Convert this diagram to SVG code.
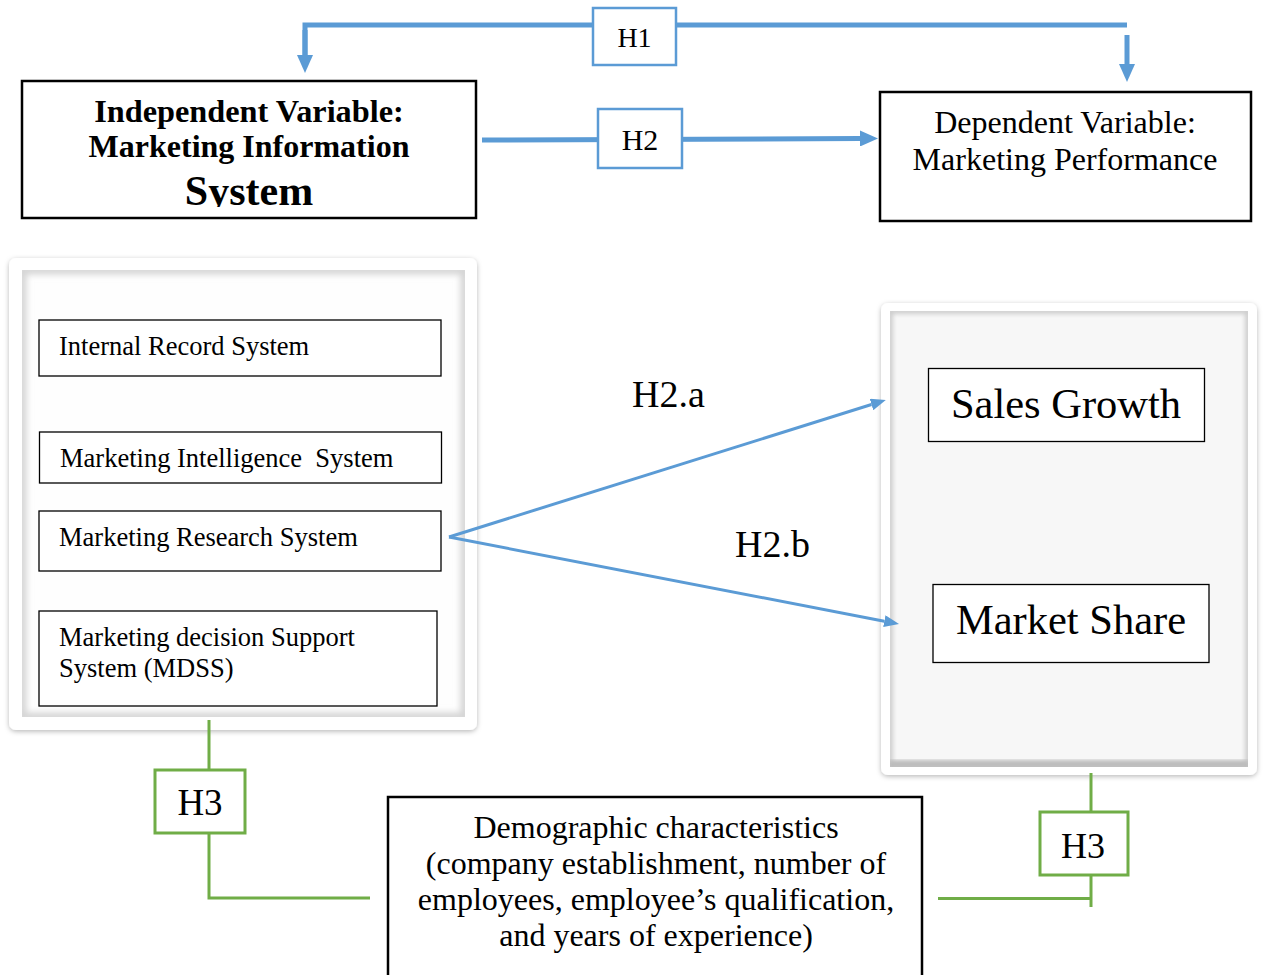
<svg xmlns="http://www.w3.org/2000/svg" width="1265" height="975" viewBox="0 0 1265 975">
<style>
text{font-family:"Liberation Serif","Times New Roman",serif;fill:#000}
.c{text-anchor:middle}
.blue{fill:none;stroke:#5b9bd5}
.green{fill:none;stroke:#70ad47;stroke-width:3}
.box{fill:#fff;stroke:#000}
.hb{fill:#fff;stroke:#5b9bd5;stroke-width:2.5}
.hg{fill:#fff;stroke:#70ad47;stroke-width:3}
.sub{font-size:26.5px}
.dem{font-size:32px}
</style>
<defs>
<marker id="ahB" markerUnits="userSpaceOnUse" markerWidth="18" markerHeight="16" refX="0" refY="8" orient="auto"><path d="M0,0 L18,8 L0,16 z" fill="#5b9bd5"/></marker>
<marker id="ahS" markerUnits="userSpaceOnUse" markerWidth="15" markerHeight="12" refX="0" refY="6" orient="auto"><path d="M0,0 L15,6 L0,12 z" fill="#5b9bd5"/></marker>
<filter id="shadow" x="-10%" y="-10%" width="120%" height="120%"><feDropShadow dx="0" dy="1.5" stdDeviation="2.5" flood-color="#000" flood-opacity="0.28"/></filter>
<filter id="blur3"><feGaussianBlur stdDeviation="3"/></filter>
<filter id="blur2"><feGaussianBlur stdDeviation="2"/></filter>
<clipPath id="clipL"><rect x="22" y="270" width="443" height="447"/></clipPath>
<clipPath id="clipR"><rect x="890" y="311" width="358" height="456"/></clipPath>
<clipPath id="clipIV"><rect x="22" y="80" width="456" height="127"/></clipPath>
</defs>

<g id="mis-container">
<rect x="9" y="258" width="468" height="472" rx="7" fill="#fff" filter="url(#shadow)"/>
<rect x="22" y="270" width="443" height="447" fill="#fefefe"/>
<g clip-path="url(#clipL)"><rect x="22" y="270" width="443" height="447" fill="none" stroke="#d4d4d4" stroke-width="9" filter="url(#blur3)"/></g>
</g>
<g id="performance-container">
<rect x="881" y="303" width="376" height="472" rx="7" fill="#fff" filter="url(#shadow)"/>
<rect x="890" y="311" width="358" height="456" fill="#f7f7f7"/>
<g clip-path="url(#clipR)">
<rect x="890" y="311" width="358" height="456" fill="none" stroke="#cdcdcd" stroke-width="6" filter="url(#blur2)"/>
<rect x="888" y="760" width="362" height="9" fill="#bcbcbc" filter="url(#blur2)"/>
</g>
</g>

<g id="connectors">
<path class="blue" stroke-width="5" d="M305,58 V25 H1127"/>
<path class="blue" stroke-width="5" d="M305,30 V55" marker-end="url(#ahB)"/>
<path class="blue" stroke-width="5" d="M1127,35 V64" marker-end="url(#ahB)"/>
<path class="blue" stroke-width="5" d="M482,140 L860,138.5" marker-end="url(#ahB)"/>
<path class="blue" stroke-width="3" d="M449,537 L871.5,404.5" marker-end="url(#ahS)"/>
<path class="blue" stroke-width="3" d="M449,537 L884.3,621.2" marker-end="url(#ahS)"/>
<path class="green" d="M209,720 V898 H370"/>
<path class="green" d="M1091,773 V907"/>
<path class="green" d="M938,898.5 H1091"/>
</g>

<g id="h1">
<rect class="hb" x="593" y="8" width="83" height="57"/>
<text class="c" x="634.5" y="47" font-size="28">H1</text>
</g>
<g id="h2">
<rect class="hb" x="598" y="109" width="84" height="59"/>
<text class="c" x="640" y="150" font-size="30">H2</text>
</g>

<g id="independent">
<rect class="box" stroke-width="2.5" x="22" y="81" width="454" height="137"/>
<g clip-path="url(#clipIV)">
<text class="c" x="249" y="122" font-size="32.3" font-weight="bold">Independent Variable:</text>
<text class="c" x="249" y="157" font-size="32" font-weight="bold">Marketing Information</text>
<text class="c" x="249" y="205" font-size="42" font-weight="bold">System</text>
</g>
</g>

<g id="dependent">
<rect class="box" stroke-width="2.5" x="880" y="92" width="371" height="129"/>
<text class="c" x="1065" y="133" font-size="32">Dependent Variable:</text>
<text class="c" x="1065" y="170" font-size="32">Marketing Performance</text>
</g>

<g id="internal-record">
<rect class="box" stroke-width="1.3" x="39" y="320" width="402" height="56"/>
<text class="sub" x="59" y="355">Internal Record System</text>
</g>
<g id="marketing-intelligence">
<rect class="box" stroke-width="1.3" x="39.5" y="432" width="402" height="51"/>
<text class="sub" x="60" y="467" xml:space="preserve">Marketing Intelligence  System</text>
</g>
<g id="marketing-research">
<rect class="box" stroke-width="1.3" x="39" y="511" width="402" height="60"/>
<text class="sub" x="59" y="546">Marketing Research System</text>
</g>
<g id="mdss">
<rect class="box" stroke-width="1.3" x="39" y="611" width="398" height="95"/>
<text class="sub" x="59" y="646">Marketing decision Support</text>
<text class="sub" x="59" y="677">System (MDSS)</text>
</g>

<g id="sales-growth">
<rect class="box" stroke-width="1.3" x="928.5" y="368.5" width="276" height="73"/>
<text class="c" x="1066" y="418" font-size="42.5">Sales Growth</text>
</g>
<g id="market-share">
<rect class="box" stroke-width="1.3" x="933" y="584.5" width="276" height="78"/>
<text class="c" x="1071" y="634" font-size="42.5">Market Share</text>
</g>

<g id="label-h2a"><text x="632" y="407" font-size="38">H2.a</text></g>
<g id="label-h2b"><text x="735" y="557" font-size="38">H2.b</text></g>

<g id="h3-left">
<rect class="hg" x="155" y="770" width="90" height="63"/>
<text class="c" x="200" y="815" font-size="37">H3</text>
</g>
<g id="h3-right">
<rect class="hg" x="1040" y="812" width="88" height="63"/>
<text class="c" x="1083" y="858" font-size="36">H3</text>
</g>

<g id="demographic">
<rect class="box" stroke-width="2.5" x="388" y="797" width="534" height="200"/>
<text class="c dem" x="656" y="838">Demographic characteristics</text>
<text class="c dem" x="656" y="874">(company establishment, number of</text>
<text class="c dem" x="656" y="910">employees, employee’s qualification,</text>
<text class="c dem" x="656" y="946">and years of experience)</text>
</g>
</svg>
